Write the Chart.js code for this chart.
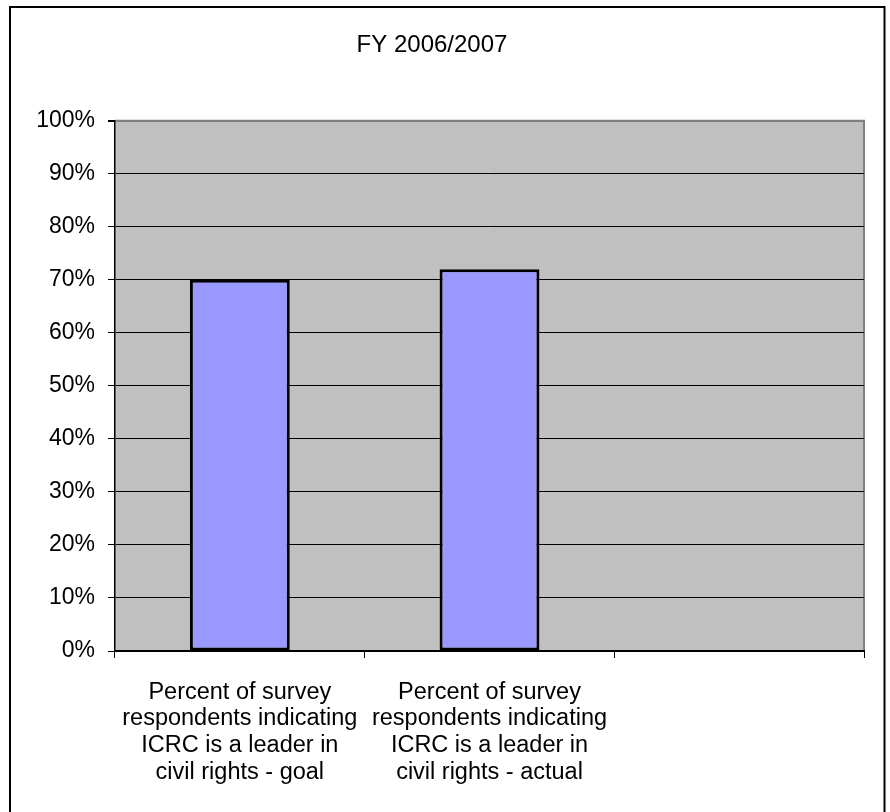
<!DOCTYPE html>
<html>
<head>
<meta charset="utf-8">
<script src="https://cdn.jsdelivr.net/npm/chart.js@4/dist/chart.umd.min.js"></script>
<style>
  html, body { margin: 0; padding: 0; background: #fff; }
  #wrap { width: 890px; height: 812px; }
</style>
</head>
<body>
<div id="wrap"><canvas id="chart" width="890" height="812"></canvas></div>
<script>
const chartTitle = 'FY 2006/2007';
const categories = [
  ['Percent of survey', 'respondents indicating', 'ICRC is a leader in', 'civil rights - goal'],
  ['Percent of survey', 'respondents indicating', 'ICRC is a leader in', 'civil rights - actual'],
  ''
];
const values = [0.70, 0.72, null];
const yMin = 0;
const yMax = 1;
const yStep = 0.1;

Chart.defaults.font.family = '"Liberation Sans", Arial, sans-serif';
Chart.defaults.color = '#000';

// gray plot area + outer frame, like the old spreadsheet chart
const plotBackground = {
  id: 'plotBackground',
  beforeDraw(chart) {
    const { ctx, chartArea: a } = chart;
    ctx.save();
    ctx.fillStyle = '#fff';
    ctx.fillRect(0, 0, chart.width, chart.height);
    ctx.strokeStyle = '#000';
    ctx.lineWidth = 2;
    ctx.strokeRect(10, 7, 874.5, 820);
    ctx.fillStyle = '#C0C0C0';
    ctx.fillRect(a.left, a.top, a.right - a.left, a.bottom - a.top);
    ctx.strokeStyle = '#808080';
    ctx.lineWidth = 2;
    ctx.beginPath();
    ctx.moveTo(a.left, a.top);
    ctx.lineTo(a.right, a.top);
    ctx.lineTo(a.right, a.bottom);
    ctx.stroke();
    ctx.restore();
  }
};

new Chart(document.getElementById('chart'), {
  type: 'bar',
  data: {
    labels: categories,
    datasets: [{
      data: values,
      backgroundColor: '#9999FF',
      borderColor: '#000',
      borderWidth: 3,
      borderSkipped: false,
      categoryPercentage: 0.8,
      barPercentage: 0.5
    }]
  },
  options: {
    responsive: false,
    animation: false,
    layout: { padding: { left: 0, right: 26, top: 0, bottom: 0 } },
    plugins: {
      legend: { display: false },
      tooltip: { enabled: false },
      title: {
        display: true,
        text: chartTitle,
        color: '#000',
        font: { size: 24, weight: 'normal' },
        padding: { top: 31, bottom: 61 }
      }
    },
    scales: {
      x: {
        offset: true,
        grid: {
          offset: true,
          drawOnChartArea: false,
          drawTicks: true,
          tickLength: 7,
          color: '#000'
        },
        border: { display: true, color: '#000', width: 2 },
        ticks: {
          autoSkip: false,
          maxRotation: 0,
          minRotation: 0,
          padding: 21,
          color: '#000',
          font: { size: 23.5, lineHeight: 1.135 }
        },
        afterFit(scale) { scale.height = 161; }
      },
      y: {
        min: yMin,
        max: yMax,
        ticks: {
          stepSize: yStep,
          padding: 13,
          color: '#000',
          font: { size: 23 },
          callback: v => Math.round(v * 100) + '%'
        },
        grid: {
          color: c => (c.tick && c.tick.value === yMax) ? '#808080' : '#000',
          lineWidth: c => (c.tick && c.tick.value === yMax) ? 2 : 1,
          tickColor: '#000',
          tickLength: 7
        },
        border: { display: true, color: '#000', width: 1.5 },
        afterFit(scale) { scale.width = 115; }
      }
    }
  },
  plugins: [plotBackground]
});
</script>
</body>
</html>
